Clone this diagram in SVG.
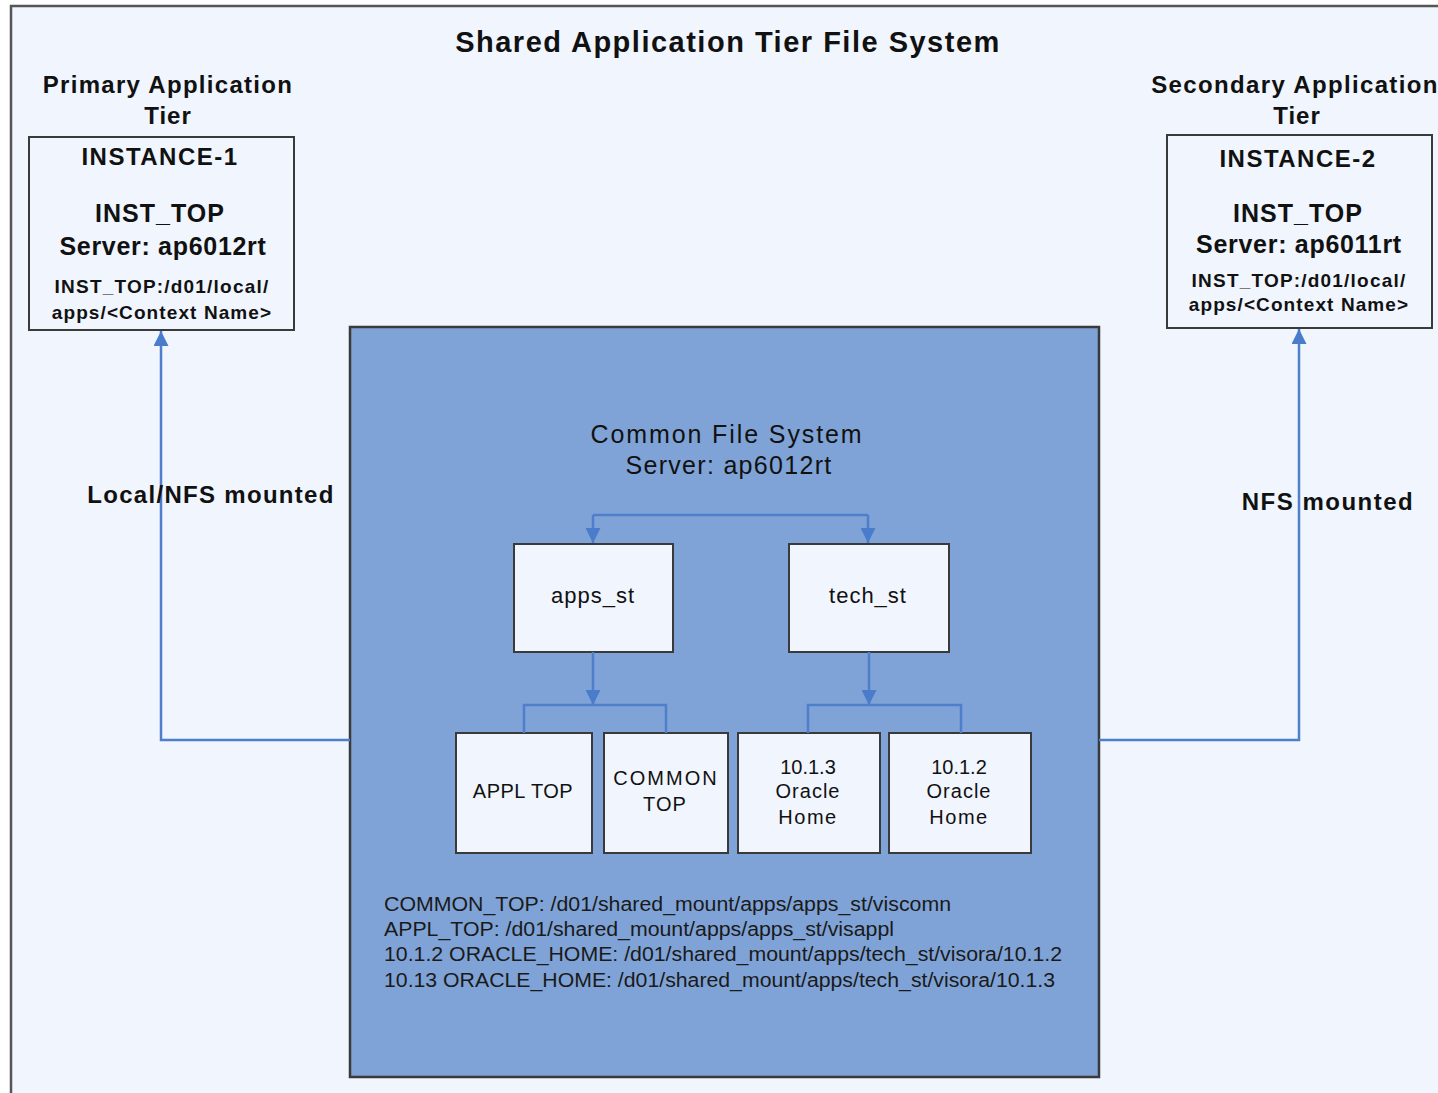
<svg xmlns="http://www.w3.org/2000/svg" width="1438" height="1093" viewBox="0 0 1438 1093">
<defs>
<style>
.t{font-family:"Liberation Sans",Arial,sans-serif;fill:#111;text-anchor:middle}
.b{font-weight:bold}
.box{fill:#f0f5fe;stroke:#3a3a3a;stroke-width:2}
.conn{fill:none;stroke:#4f7fcc;stroke-width:2.5}
.p{font-family:"Liberation Sans",Arial,sans-serif;font-size:20px;fill:#1a1a1a}
</style>
<marker id="ah2" viewBox="0 0 10 10" refX="10" refY="5" markerWidth="18" markerHeight="15" markerUnits="userSpaceOnUse" orient="auto">
<path d="M0,0 L10,5 L0,10 z" fill="#4a7ccc"/>
</marker>
</defs>
<rect width="1438" height="1093" fill="#ffffff"/>
<rect id="frame" x="11" y="6" width="1440" height="1100" fill="#f0f5fe" stroke="#555" stroke-width="2.5"/>
<text class="t b" x="728" y="52" font-size="29" letter-spacing="1.5">Shared Application Tier File System</text>

<g id="primary">
<text class="t b" x="168" y="93" font-size="24" letter-spacing="1.3">Primary Application</text>
<text class="t b" x="168" y="124" font-size="24" letter-spacing="1">Tier</text>
<rect class="box" x="29" y="137" width="265" height="193"/>
<text class="t b" x="160" y="165" font-size="24" letter-spacing="1.5">INSTANCE-1</text>
<text class="t b" x="160" y="222" font-size="25" letter-spacing="1">INST_TOP</text>
<text class="t b" x="163" y="255" font-size="25" letter-spacing="0.7">Server: ap6012rt</text>
<text class="t b" x="162" y="293" font-size="19" letter-spacing="1.2">INST_TOP:/d01/local/</text>
<text class="t b" x="162" y="319" font-size="19" letter-spacing="1.1">apps/&lt;Context Name&gt;</text>
</g>

<g id="secondary">
<text class="t b" x="1295" y="93" font-size="24" letter-spacing="1.35">Secondary Application</text>
<text class="t b" x="1297" y="124" font-size="24" letter-spacing="1">Tier</text>
<rect class="box" x="1167" y="135" width="265" height="193"/>
<text class="t b" x="1298" y="167" font-size="24" letter-spacing="1.5">INSTANCE-2</text>
<text class="t b" x="1298" y="222" font-size="25" letter-spacing="1">INST_TOP</text>
<text class="t b" x="1299" y="253" font-size="25" letter-spacing="0.7">Server: ap6011rt</text>
<text class="t b" x="1299" y="287" font-size="19" letter-spacing="1.2">INST_TOP:/d01/local/</text>
<text class="t b" x="1299" y="311" font-size="19" letter-spacing="1.1">apps/&lt;Context Name&gt;</text>
</g>

<g id="common">
<rect x="350" y="327" width="749" height="750" fill="#7fa3d6" stroke="#3a3a3a" stroke-width="2.5"/>
<text class="t" x="727" y="443" font-size="25" letter-spacing="1.9">Common File System</text>
<text class="t" x="729" y="474" font-size="25" letter-spacing="1.3">Server: ap6012rt</text>
<text class="p" x="384" y="911" textLength="567" lengthAdjust="spacingAndGlyphs">COMMON_TOP: /d01/shared_mount/apps/apps_st/viscomn</text>
<text class="p" x="384" y="936" textLength="510" lengthAdjust="spacingAndGlyphs">APPL_TOP: /d01/shared_mount/apps/apps_st/visappl</text>
<text class="p" x="384" y="961" textLength="678" lengthAdjust="spacingAndGlyphs">10.1.2 ORACLE_HOME: /d01/shared_mount/apps/tech_st/visora/10.1.2</text>
<text class="p" x="384" y="987" textLength="671" lengthAdjust="spacingAndGlyphs">10.13 ORACLE_HOME: /d01/shared_mount/apps/tech_st/visora/10.1.3</text>
</g>

<g id="apps_st">
<rect class="box" x="514" y="544" width="159" height="108"/>
<text class="t" x="593" y="603" font-size="22" letter-spacing="1">apps_st</text>
</g>
<g id="tech_st">
<rect class="box" x="789" y="544" width="160" height="108"/>
<text class="t" x="868" y="603" font-size="22" letter-spacing="1">tech_st</text>
</g>
<g id="appl_top">
<rect class="box" x="456" y="733" width="136" height="120"/>
<text class="t" x="523" y="798" font-size="20" letter-spacing="0.5">APPL TOP</text>
</g>
<g id="common_top">
<rect class="box" x="604" y="733" width="124" height="120"/>
<text class="t" x="666" y="785" font-size="20" letter-spacing="2">COMMON</text>
<text class="t" x="665" y="811" font-size="20" letter-spacing="1">TOP</text>
</g>
<g id="oh1013">
<rect class="box" x="738" y="733" width="142" height="120"/>
<text class="t" x="808" y="774" font-size="20">10.1.3</text>
<text class="t" x="808" y="798" font-size="20" letter-spacing="1">Oracle</text>
<text class="t" x="808" y="824" font-size="20" letter-spacing="1.5">Home</text>
</g>
<g id="oh1012">
<rect class="box" x="889" y="733" width="142" height="120"/>
<text class="t" x="959" y="774" font-size="20">10.1.2</text>
<text class="t" x="959" y="798" font-size="20" letter-spacing="1">Oracle</text>
<text class="t" x="959" y="824" font-size="20" letter-spacing="1.5">Home</text>
</g>

<g id="connectors">
<path class="conn" d="M593,515 H868"/>
<path class="conn" d="M868,515 V543" marker-end="url(#ah2)"/>
<path class="conn" d="M593,515 V543" marker-end="url(#ah2)"/>
<path class="conn" d="M593,652 V705" marker-end="url(#ah2)"/>
<path class="conn" d="M524,733 V705 H666 V733"/>
<path class="conn" d="M869,652 V705" marker-end="url(#ah2)"/>
<path class="conn" d="M808,733 V705 H961 V733"/>
<path class="conn" d="M350,740 H161 V331" marker-end="url(#ah2)"/>
<path class="conn" d="M1099,740 H1299 V329" marker-end="url(#ah2)"/>
<text class="t b" x="211" y="503" font-size="24" letter-spacing="1.3">Local/NFS mounted</text>
<text class="t b" x="1328" y="510" font-size="24" letter-spacing="1.5">NFS mounted</text>
</g>
</svg>
